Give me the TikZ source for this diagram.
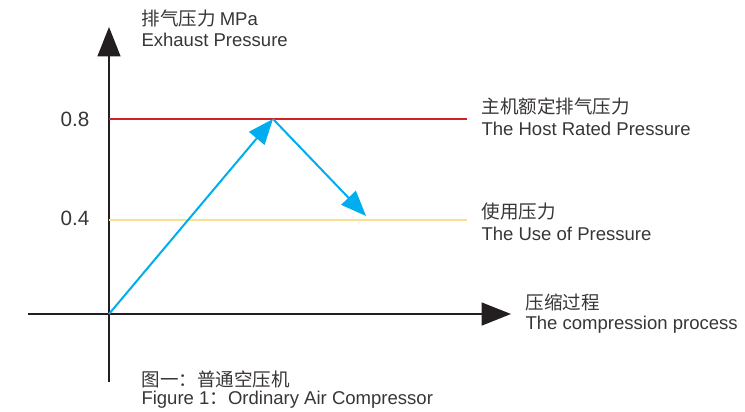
\documentclass[tikz,border=0pt]{standalone}
\usepackage{fontspec}
\setmainfont{Liberation Sans}
\newfontfamily\cjk{Noto Sans CJK SC}
\usetikzlibrary{arrows.meta}

\definecolor{axisblack}{RGB}{35,31,32}
\definecolor{ratedred}{RGB}{204,35,40}
\definecolor{useyellow}{RGB}{250,222,145}
\definecolor{flowblue}{RGB}{0,174,239}

\tikzset{every picture/.style={line width=0.75pt}}
\tikzset{
  axisline/.style={draw=axisblack, line width=1.9pt, -{Triangle[length=22pt,width=17pt]}},
  levelline/.style={line width=1.5pt},
  flowline/.style={draw=flowblue, fill=flowblue, line width=1.5pt, -{Triangle[length=19pt,width=15pt]}},
  zhlabel/.style={anchor=west, inner sep=0pt, font=\cjk\fontsize{13.9}{14}\selectfont, text=axisblack!90},
  enlabel/.style={anchor=west, inner sep=0pt, font=\fontsize{13.9}{14}\selectfont, text=axisblack!90},
  ticklabel/.style={anchor=center, inner sep=0pt, font=\fontsize{15.5}{16}\selectfont, text=axisblack!90}
}

\begin{document}
\begin{tikzpicture}[x=0.75pt,y=0.75pt,yscale=-1,xscale=1]
\useasboundingbox (0,0) rectangle (745,411);

% axes
\coordinate (origin) at (109,314);
\coordinate (ybottom) at (109,382);
\coordinate (ytop) at (109,27);
\coordinate (xleft) at (28,314);
\coordinate (xright) at (511,314);
\draw [axisblack, line width=1.9pt] (origin) -- (ybottom);
\draw [axisline] (origin) -- (ytop);
\draw [axisline] (xleft) -- (xright);

% pressure levels
\coordinate (rated0) at (109,119);
\coordinate (rated1) at (467,119);
\coordinate (use0) at (109,220);
\coordinate (use1) at (467,220);
\draw [levelline, ratedred] (rated0) -- (rated1);
\draw [levelline, useyellow] (use0) -- (use1);

% compression curve
\coordinate (peak) at (273,119);
\coordinate (drop) at (366,216);
\draw [flowline] (origin) -- (peak);
\draw [flowline] (peak) -- (drop);

% Text Node
\node [ticklabel] (v08) at (75,119) {0.8};
\node [ticklabel] (v04) at (75,218) {0.4};

\node [zhlabel] (yzh) at (141,18) {排气压力 {\fontspec{Liberation Sans}MPa}};
\node [enlabel] (yen) at (141,40) {Exhaust Pressure};

\node [zhlabel] (ratedzh) at (481,106) {主机额定排气压力};
\node [enlabel] (rateden) at (481,129) {The Host Rated Pressure};

\node [zhlabel] (usezh) at (481,211) {使用压力};
\node [enlabel] (useen) at (481,234) {The Use of Pressure};

\node [zhlabel] (xzh) at (525,302) {压缩过程};
\node [enlabel] (xen) at (525,325) {The compression process};

\node [zhlabel] (capzh) at (141,379) {图一：普通空压机};
\node [enlabel] (capen) at (141,400) {Figure 1{\cjk ：}Ordinary Air Compressor};

\end{tikzpicture}
\end{document}
